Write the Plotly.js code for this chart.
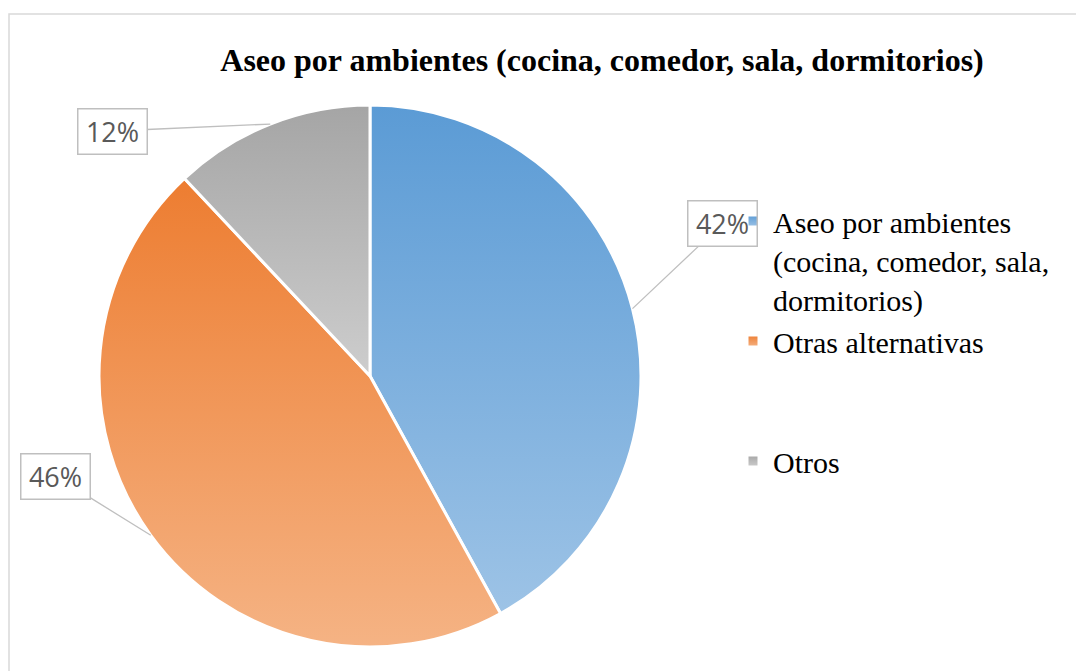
<!DOCTYPE html>
<html>
<head>
<meta charset="utf-8">
<script src="https://cdn.plot.ly/plotly-3.0.1.min.js"></script>
<style>
  html, body { margin: 0; padding: 0; background: #ffffff; }
  #chart { width: 1076px; height: 671px; }
</style>
</head>
<body>
<div id="chart"></div>
<script>
// ---- data ----
const chartTitle = 'Aseo por ambientes (cocina, comedor, sala, dormitorios)';
const categories = ['Aseo por ambientes (cocina, comedor, sala, dormitorios)', 'Otras alternativas', 'Otros'];
const shares = [42, 46, 12];
const percentLabels = ['42%', '46%', '12%'];

// ---- styling ----
const W = 1076, H = 671;
const topColors = ['#5B9BD5', '#ED7D31', '#A5A5A5'];
const bottomColors = ['#9DC3E6', '#F5B384', '#CDCDCD'];
const midColors = ['#7CAFDD', '#F19859', '#B8B8B8'];
const legendText = [
  'Aseo por ambientes<br>(cocina, comedor, sala,<br>dormitorios)',
  'Otras alternativas<br>&nbsp;<br>&nbsp;',
  'Otros'
];

// pie geometry (pixels)
const pcx = 370, pcy = 376, pr = 271;
const domainX = [(pcx - pr) / W, (pcx + pr) / W];
const domainY = [(H - pcy - pr) / H, (H - pcy + pr) / H];

// label offsets (pixels from slice edge midpoint to label centre)
const labelOffsets = [[90, -85], [-95, -59], [-158, 7]];

const total = shares.reduce((a, b) => a + b, 0);
let cum = 0;
const annotations = shares.map((v, i) => {
  const midFrac = (cum + v / 2) / total;
  cum += v;
  const ang = midFrac * 2 * Math.PI; // clockwise from 12 o'clock
  const px = pcx + pr * Math.sin(ang);
  const py = pcy - pr * Math.cos(ang);
  return {
    x: px / W, y: 1 - py / H, xref: 'paper', yref: 'paper',
    text: percentLabels[i],
    showarrow: true, arrowhead: 0, arrowwidth: 1.3, arrowcolor: '#BFBFBF',
    ax: labelOffsets[i][0], ay: labelOffsets[i][1],
    bordercolor: '#BFBFBF', borderwidth: 1.5, borderpad: 0,
    bgcolor: 'rgba(255,255,255,0)',
    width: 68, height: 44,
    font: { family: 'Open Sans, Liberation Sans, sans-serif', size: 27, color: '#595959' }
  };
});

const trace = {
  type: 'pie',
  labels: legendText,
  values: shares,
  customdata: categories,
  sort: false,
  direction: 'clockwise',
  rotation: 0,
  textinfo: 'none',
  hoverinfo: 'none',
  domain: { x: domainX, y: domainY },
  marker: { colors: midColors, line: { color: '#FFFFFF', width: 3 } }
};

const layout = {
  width: W, height: H,
  margin: { l: 0, r: 0, t: 0, b: 0 },
  paper_bgcolor: '#FFFFFF',
  title: {
    text: '<b>' + chartTitle + '</b>',
    x: 602 / W, xanchor: 'center', xref: 'paper',
    y: 1 - 60 / H, yanchor: 'middle', yref: 'container',
    font: { family: 'Times New Roman, Liberation Serif, serif', size: 32, color: '#000000' }
  },
  showlegend: true,
  legend: {
    x: 733 / W, xanchor: 'left',
    y: 1 - 195 / H, yanchor: 'top',
    valign: 'top',
    bgcolor: 'rgba(0,0,0,0)',
    font: { family: 'Times New Roman, Liberation Serif, serif', size: 30, color: '#000000' },
    tracegroupgap: 0
  },
  annotations: annotations,
  shapes: [{
    type: 'rect', xref: 'paper', yref: 'paper',
    x0: 9 / W, x1: 1.01, y0: -0.01, y1: 1 - 14 / H,
    line: { color: '#D9D9D9', width: 1.5 }, fillcolor: 'rgba(0,0,0,0)', layer: 'below'
  }]
};

Plotly.newPlot('chart', [trace], layout, { displayModeBar: false, staticPlot: true }).then(gd => {
  const svg = gd.querySelector('svg.main-svg');
  const NS = 'http://www.w3.org/2000/svg';
  const defs = document.createElementNS(NS, 'defs');
  topColors.forEach((c, i) => {
    const g = document.createElementNS(NS, 'linearGradient');
    g.setAttribute('id', 'sliceGrad' + i);
    g.setAttribute('x1', '0'); g.setAttribute('y1', '0');
    g.setAttribute('x2', '0'); g.setAttribute('y2', '1');
    const s1 = document.createElementNS(NS, 'stop');
    s1.setAttribute('offset', '0'); s1.setAttribute('stop-color', c);
    const s2 = document.createElementNS(NS, 'stop');
    s2.setAttribute('offset', '1'); s2.setAttribute('stop-color', bottomColors[i]);
    g.appendChild(s1); g.appendChild(s2);
    defs.appendChild(g);
  });
  svg.insertBefore(defs, svg.firstChild);
  gd.querySelectorAll('.pielayer .slice path.surface').forEach((p, i) => {
    p.style.fill = 'url(#sliceGrad' + i + ')';
  });
  gd.querySelectorAll('.legend .traces').forEach((t, i) => {
    t.querySelectorAll('.legendpoints path').forEach(p => { p.style.fill = 'url(#sliceGrad' + i + ')'; });
  });
});
</script>
</body>
</html>
